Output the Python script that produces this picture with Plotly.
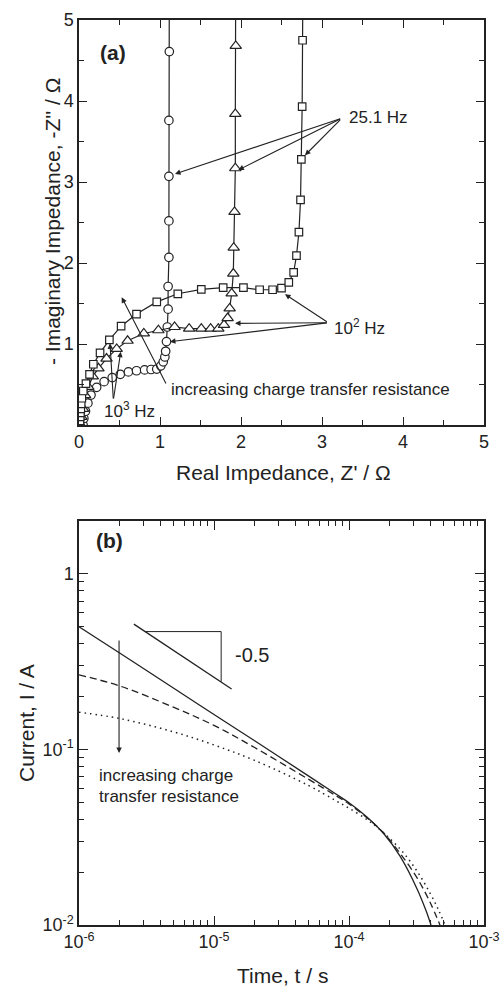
import numpy as np
import plotly.graph_objects as go

# ---------------- Panel (a): Nyquist data ----------------
circ_x = [0.05, 0.06, 0.08, 0.11, 0.148, 0.218, 0.31, 0.41, 0.51, 0.61, 0.71, 0.81, 0.89, 0.96,
          1.01, 1.04, 1.06, 1.07, 1.08, 1.09, 1.10, 1.10, 1.11, 1.11, 1.11, 1.11, 1.115, 1.115]
circ_y = [0.0, 0.08, 0.17, 0.27, 0.37, 0.465, 0.535, 0.585, 0.625, 0.655, 0.67, 0.68, 0.685, 0.69,
          0.73, 0.78, 0.84, 0.91, 1.03, 1.21, 1.43, 1.71, 2.07, 2.52, 3.07, 3.76, 4.61, 5.6]

tri_x = [0.02, 0.03, 0.05, 0.075, 0.115, 0.17, 0.24, 0.34, 0.465, 0.60, 0.80, 0.98, 1.18, 1.36,
         1.51, 1.625, 1.72, 1.79, 1.835, 1.86, 1.885, 1.905, 1.91, 1.92, 1.93, 1.93, 1.935, 1.935]
tri_y = [0.0, 0.1, 0.2, 0.37, 0.47, 0.60, 0.70, 0.82, 0.94, 1.04, 1.13, 1.17, 1.21, 1.19,
         1.19, 1.19, 1.19, 1.235, 1.32, 1.44, 1.625, 1.87, 2.19, 2.63, 3.17, 3.84, 4.68, 5.6]

sq_x = [0.01, 0.012, 0.015, 0.018, 0.022, 0.027, 0.035, 0.053, 0.086, 0.13, 0.177, 0.26, 0.375,
        0.52, 0.71, 0.96, 1.22, 1.51, 1.78, 2.03, 2.23, 2.39, 2.50, 2.59, 2.65, 2.685, 2.715,
        2.735, 2.745, 2.755, 2.76, 2.765]
sq_y = [0.0, 0.05, 0.10, 0.15, 0.20, 0.26, 0.33, 0.42, 0.51, 0.625, 0.75, 0.89, 1.05,
        1.22, 1.37, 1.52, 1.62, 1.675, 1.695, 1.695, 1.67, 1.67, 1.69, 1.76, 1.885, 2.09, 2.38,
        2.78, 3.28, 3.93, 4.75, 5.6]

x_ticks_a = [0, 1, 2, 3, 4, 5]
y_ticks_a = [1, 2, 3, 4, 5]

# ---------------- Panel (b): chronoamperometry data ----------------
t_solid = [1e-6, 2e-6, 5e-6, 1e-5, 2e-5, 5e-5, 8e-5, 1e-4, 1.35e-4, 1.8e-4, 2.4e-4, 3.2e-4, 3.7e-4, 4.05e-4]
i_solid = [0.50, 0.354, 0.224, 0.158, 0.112, 0.0707, 0.0557, 0.0497, 0.0414, 0.0333, 0.0245, 0.0160, 0.0122, 0.0100]

t_dash = [1e-6, 2e-6, 5e-6, 1e-5, 2e-5, 5e-5, 8e-5, 1e-4, 1.35e-4, 1.8e-4, 2.4e-4, 3.2e-4, 4e-4, 4.72e-4]
i_dash = [0.266, 0.230, 0.174, 0.137, 0.1025, 0.0677, 0.0545, 0.0489, 0.0410, 0.0335, 0.0255, 0.0185, 0.0134, 0.0100]

t_dot = [1e-6, 2e-6, 5e-6, 1e-5, 2e-5, 5e-5, 8e-5, 1e-4, 1.35e-4, 1.64e-4, 2.4e-4, 3.2e-4, 4e-4, 4.6e-4, 5.14e-4]
i_dot = [0.163, 0.150, 0.126, 0.106, 0.0866, 0.0624, 0.0510, 0.0463, 0.0400, 0.0357, 0.0270, 0.0202, 0.0151, 0.0122, 0.0100]

slope_hyp_t = [2.55e-6, 1.35e-5]
slope_hyp_i = [0.517, 0.221]
slope_leg_t = [3.07e-6, 1.13e-5, 1.13e-5]
slope_leg_i = [0.469, 0.469, 0.243]

x_ticks_b = [1e-6, 1e-5, 1e-4, 1e-3]
x_text_b = ["10<sup>-6</sup>", "10<sup>-5</sup>", "10<sup>-4</sup>", "10<sup>-3</sup>"]
y_ticks_b = [1e-2, 1e-1, 1]
y_text_b = ["10<sup>-2</sup>", "10<sup>-1</sup>", "1"]

FONT = "Liberation Sans, Arial, Helvetica, sans-serif"
INK = "#222222"
W, H = 500, 986
# plot area in page pixels: x 79..484, y 20..925
L, T = 79, 20
R, B = W - 484, H - 925
PW, PH = W - L - R, H - T - B

fig = go.Figure()

mk = dict(color="white", line=dict(color=INK, width=1.2))
fig.add_trace(go.Scatter(x=circ_x, y=circ_y, mode="lines+markers", xaxis="x", yaxis="y",
                         line=dict(color=INK, width=1.2),
                         marker=dict(symbol="circle", size=8.5, **mk)))
fig.add_trace(go.Scatter(x=tri_x, y=tri_y, mode="lines+markers", xaxis="x", yaxis="y",
                         line=dict(color=INK, width=1.2),
                         marker=dict(symbol="triangle-up", size=10, **mk)))
fig.add_trace(go.Scatter(x=sq_x, y=sq_y, mode="lines+markers", xaxis="x", yaxis="y",
                         line=dict(color=INK, width=1.2),
                         marker=dict(symbol="square", size=7.5, **mk)))

fig.add_trace(go.Scatter(x=t_solid, y=i_solid, mode="lines", xaxis="x2", yaxis="y2",
                         line=dict(color=INK, width=1.3, shape="spline")))
fig.add_trace(go.Scatter(x=t_dash, y=i_dash, mode="lines", xaxis="x2", yaxis="y2",
                         line=dict(color=INK, width=1.3, dash="7px,4px", shape="spline")))
fig.add_trace(go.Scatter(x=t_dot, y=i_dot, mode="lines", xaxis="x2", yaxis="y2",
                         line=dict(color=INK, width=1.5, dash="1.5px,4px", shape="spline")))
fig.add_trace(go.Scatter(x=slope_hyp_t, y=slope_hyp_i, mode="lines", xaxis="x2", yaxis="y2",
                         line=dict(color=INK, width=1.3)))
fig.add_trace(go.Scatter(x=slope_leg_t, y=slope_leg_i, mode="lines", xaxis="x2", yaxis="y2",
                         line=dict(color=INK, width=1.0)))

def px2x(p):
    return (p - L) / PW

def px2y(p):
    return (H - B - p) / PH

axis_common = dict(showline=True, linecolor=INK, linewidth=1.5, mirror="ticks", ticks="inside",
                   tickcolor=INK, tickwidth=1.2, showgrid=False, zeroline=False, automargin=False,
                   tickfont=dict(family=FONT, size=18, color=INK))

fig.update_layout(
    width=W, height=H, margin=dict(l=L, r=R, t=T, b=B, autoexpand=False),
    paper_bgcolor="white", plot_bgcolor="white", showlegend=False,
    font=dict(family=FONT, color=INK),
    xaxis=dict(domain=[0, 1], anchor="y", range=[0, 5],
               tickvals=x_ticks_a, ticklen=8,
               minor=dict(ticks="inside", dtick=0.5, ticklen=5, tickcolor=INK, tickwidth=1.2),
               **axis_common),
    yaxis=dict(domain=[px2y(425), 1], anchor="x", range=[0, 5],
               tickvals=y_ticks_a, ticklen=8,
               minor=dict(ticks="inside", dtick=0.5, ticklen=5, tickcolor=INK, tickwidth=1.2),
               **axis_common),
    xaxis2=dict(domain=[0, 1], anchor="y2", type="log", range=[-6, -3],
                tickvals=x_ticks_b, ticktext=x_text_b, ticklen=9,
                minor=dict(ticks="inside", dtick="D1", ticklen=5, tickcolor=INK, tickwidth=1.2),
                **axis_common),
    yaxis2=dict(domain=[0, px2y(521)], anchor="x2", type="log", range=[-2, np.log10(2)],
                tickvals=y_ticks_b, ticktext=y_text_b, ticklen=9,
                minor=dict(ticks="inside", dtick="D1", ticklen=5, tickcolor=INK, tickwidth=1.2),
                **axis_common),
)

ann = []
def text(x, y, s, size=17, bold=False, xanchor="left", angle=0):
    ann.append(dict(x=px2x(x), y=px2y(y), xref="paper", yref="paper", text=("<b>%s</b>" % s) if bold else s,
                    showarrow=False, xanchor=xanchor, yanchor="middle", textangle=angle,
                    font=dict(family=FONT, size=size, color=INK)))

def arrow(xh, yh, xt, yt, xr="x", yr="y"):
    ann.append(dict(x=xh, y=yh, ax=xt, ay=yt, xref=xr, yref=yr, axref=xr, ayref=yr, text="",
                    showarrow=True, arrowhead=2, arrowsize=1.0, arrowwidth=1.1, arrowcolor=INK))

# panel (a) text
text(98, 53, "(a)", size=21, bold=True)
text(347, 117, "25.1 Hz")
text(332, 327, "10<sup>2</sup> Hz")
text(102, 410, "10<sup>3</sup> Hz")
text(169, 389, "increasing charge transfer resistance")
text(283, 472, "Real Impedance, Z' / \u03a9", size=21, xanchor="center")
text(52, 222, "- Imaginary Impedance, -Z'' / \u03a9", size=21, xanchor="center", angle=-90)

# panel (a) arrows (data coords)
for (xh, yh) in [(1.185, 3.10), (1.967, 3.148), (2.79, 3.33)]:
    arrow(xh, yh, 3.243, 3.786)
for (xh, yh) in [(2.543, 1.614), (1.926, 1.255), (1.123, 1.029)]:
    arrow(xh, yh, 3.078, 1.263)
for (xh, yh) in [(0.383, 1.008), (0.515, 0.905)]:
    arrow(xh, yh, 0.424, 0.309)
arrow(0.527, 1.576, 1.083, 0.494)

# panel (b) text
text(94, 540, "(b)", size=21, bold=True)
text(233, 655, "-0.5", size=20)
text(97, 775, "increasing charge")
text(97, 796, "transfer resistance")
text(282, 975, "Time, t / s", size=21, xanchor="center")
text(26, 723, "Current, I / A", size=21, xanchor="center", angle=-90)

arrow(np.log10(1.98e-6), np.log10(0.0955), np.log10(1.98e-6), np.log10(0.426), xr="x2", yr="y2")

fig.update_layout(annotations=ann)
fig.write_html("out.html", config={"displayModeBar": False},
               post_script="document.body.style.margin='0';document.body.style.overflow='hidden';")
